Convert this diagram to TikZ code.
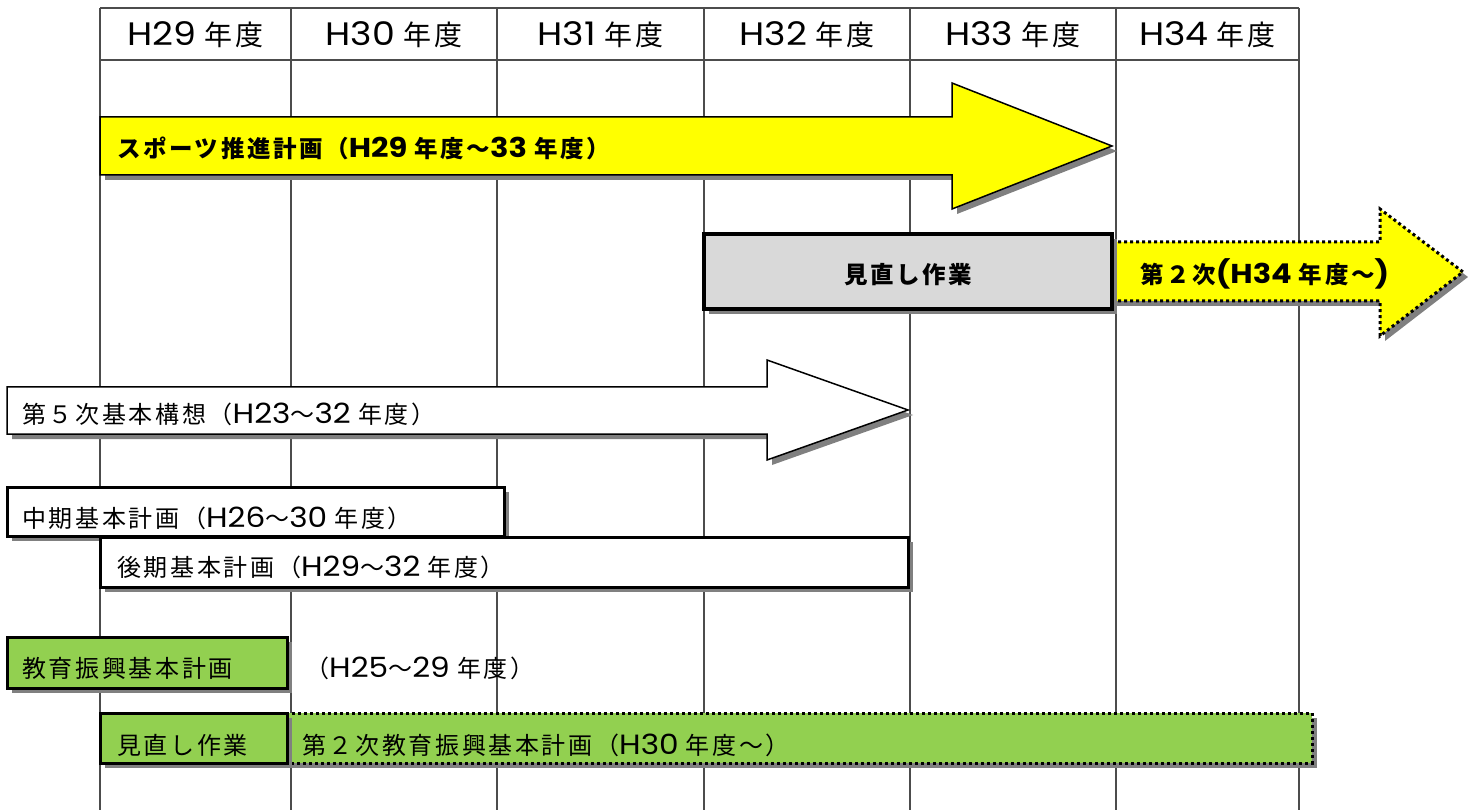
\documentclass[tikz,border=0pt]{standalone}
\usepackage{fontspec}
\setmainfont{Noto Sans CJK JP}[LetterSpace=11]
\newfontfamily\latf{Poppins}[Scale=1.16, FakeStretch=1.12]
\newcommand{\lt}[1]{{\latf #1}}
\newcommand{\gp}{\hspace{0.3em}}
\usetikzlibrary{shadows}
\definecolor{ybright}{RGB}{255,255,0}
\definecolor{lgreen}{RGB}{146,208,80}
\definecolor{lgray}{RGB}{217,217,217}
\definecolor{shgray}{RGB}{128,128,128}
\tikzset{
  shd/.style={drop shadow={shadow xshift=5pt, shadow yshift=-5pt, fill=shgray, opacity=1}},
  thinb/.style={draw=black, line width=1.5pt},
  medb/.style={draw=black, line width=3pt},
  thickb/.style={draw=black, line width=4pt},
  dotb/.style={draw=black, line width=3pt, dash pattern=on 3pt off 3pt},
  gridl/.style={draw=black!70, line width=1.3pt},
  lbl/.style={anchor=west, inner sep=0pt, font=\fontsize{24}{26}\selectfont},
  blbl/.style={anchor=west, inner sep=0pt, font=\fontsize{23.5}{26}\selectfont\bfseries},
  hdr/.style={inner sep=0pt, font=\fontsize{28}{30}\selectfont},
}
\begin{document}
\begin{tikzpicture}[x=1pt,y=-1pt]
\useasboundingbox (0,0) rectangle (1468,810);
% grid
\foreach \gx in {100,291,497,704,910,1116,1299}
  \draw[gridl] (\gx,8) -- (\gx,810);
\draw[gridl] (100,8) -- (1299,8);
\draw[gridl] (100,60) -- (1299,60);
\node[hdr] (h29) at (195.5,35) {\lt{H29}\gp 年度};
\node[hdr] (h30) at (394,35) {\lt{H30}\gp 年度};
\node[hdr] (h31) at (600.5,35) {\lt{H31}\gp 年度};
\node[hdr] (h32) at (807,35) {\lt{H32}\gp 年度};
\node[hdr] (h33) at (1013,35) {\lt{H33}\gp 年度};
\node[hdr] (h34) at (1207.5,35) {\lt{H34}\gp 年度};
% sports plan arrow
\path[shd, thinb, fill=ybright] (100,117) -- (952,117) -- (952,83) -- (1112,146) -- (952,209) -- (952,175) -- (100,175) -- cycle;
\node[blbl] (sports) at (117,148) {スポーツ推進計画（\lt{H29}\gp 年度～\lt{33}\gp 年度）};
% second plan dotted arrow
\path[shd, dotb, fill=ybright] (1112,242) -- (1380,242) -- (1380,209) -- (1463,272) -- (1380,336) -- (1380,301) -- (1112,301) -- cycle;
\node[blbl] (second) at (1140,274) {第２次\lt{(H34}\gp 年度～\lt{)}};
% review box
\path[shd, thickb, fill=lgray] (704,234) rectangle (1112,309);
\node[blbl, anchor=center] (review) at (908,275) {見直し作業};
% fifth basic concept arrow
\path[shd, thinb, fill=white] (7,387) -- (767,387) -- (767,360) -- (908,410) -- (767,460) -- (767,434) -- (7,434) -- cycle;
\node[lbl] (fifth) at (22,414) {第５次基本構想（\lt{H23}～\lt{32}\gp 年度）};
% mid-term plan
\path[shd, medb, fill=white] (7,487) rectangle (504,536);
\node[lbl] (mid) at (22,518) {中期基本計画（\lt{H26}～\lt{30}\gp 年度）};
% late plan
\path[shd, medb, fill=white] (100,537) rectangle (908,587);
\node[lbl] (late) at (117,567) {後期基本計画（\lt{H29}～\lt{32}\gp 年度）};
% education plan
\path[shd, medb, fill=lgreen] (7,637) rectangle (287,688);
\node[lbl] (edu) at (22,668) {教育振興基本計画};
\node[lbl] (eduyr) at (305,668) {（\lt{H25}～\lt{29}\gp 年度）};
% second education plan
\path[shd, dotb, fill=lgreen] (287,713) rectangle (1312,763);
\node[lbl] (edu2) at (302,745) {第２次教育振興基本計画（\lt{H30}\gp 年度～）};
\path[shd, medb, fill=lgreen] (100,713) rectangle (287,763);
\node[lbl] (rev2) at (117,745) {見直し作業};
\end{tikzpicture}
\end{document}
